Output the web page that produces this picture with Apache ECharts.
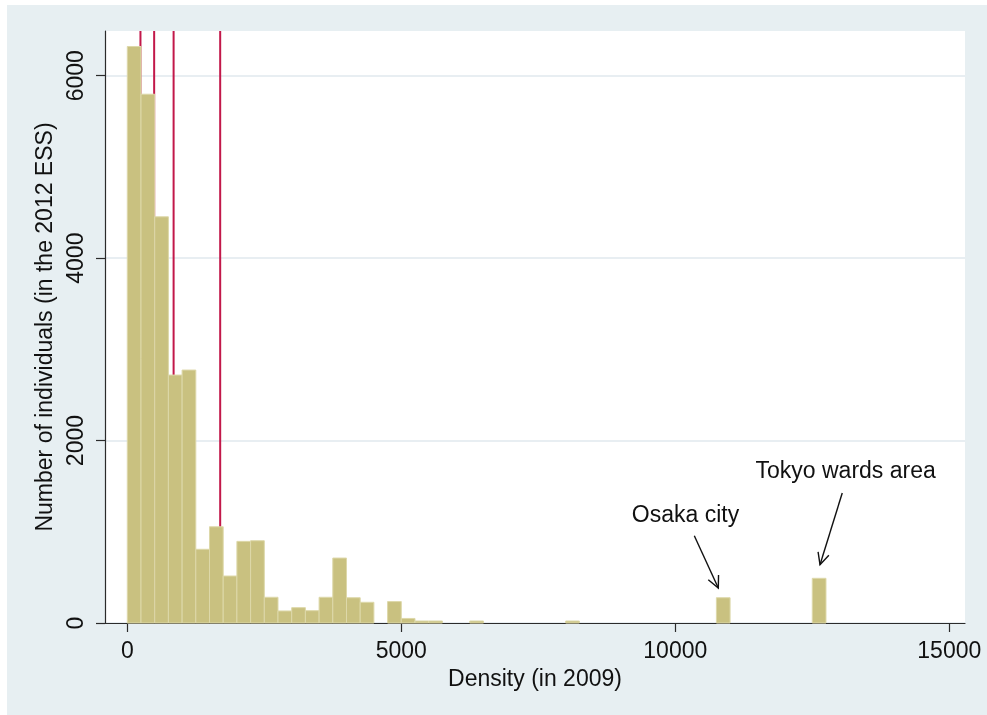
<!DOCTYPE html>
<html>
<head>
<meta charset="utf-8">
<title>Density histogram</title>
<script src="https://cdn.jsdelivr.net/npm/echarts@6/dist/echarts.min.js"></script>
<style>
  html, body { margin: 0; padding: 0; background: #fff; }
  #chart { width: 987px; height: 715px; }
</style>
</head>
<body>
<div id="chart"></div>
<script>
// histogram bins (lower edge, width 250) and counts
const binWidth = 250
const binLower = [0, 250, 500, 750, 1000, 1250, 1500, 1750, 2000, 2250, 2500, 2750, 3000, 3250, 3500, 3750, 4000, 4250, 4750, 5000, 5250, 5500, 6250, 8000, 10750, 12500]
const binCount = [6320, 5797, 4453, 2718, 2773, 808, 1055, 515, 895, 902, 282, 132, 168, 135, 282, 712, 277, 227, 235, 50, 22, 22, 22, 22, 277, 490]

// red reference lines
const refLines = [240, 490, 845, 1695]

// tick labels
const xTicks = [0, 5000, 10000, 15000]
const yTicks = [0, 2000, 4000, 6000]

// annotations
const annoLabels = ['Osaka city', 'Tokyo wards area']
const annoTextAt = [[10186, 1179], [13109, 1658]]
const arrowFrom = [[10347, 957], [13047, 1425]]
const arrowTo = [[10785, 384], [12641, 639]]

const FONT = '"Liberation Sans", Arial, Helvetica, sans-serif'
const Y_MAX = 6490

const barData = binLower.map((lo, i) => [lo, lo + binWidth, binCount[i]])
const annoData = annoLabels.map((t, i) => [annoTextAt[i][0], annoTextAt[i][1], arrowFrom[i][0], arrowFrom[i][1], arrowTo[i][0], arrowTo[i][1]])

const chart = echarts.init(document.getElementById('chart'), null, {renderer: 'canvas'})

const plainNumber = v => String(v)

chart.setOption({
  animation: false,
  textStyle: {fontFamily: FONT},
  graphic: [{
    type: 'rect',
    z: -10,
    silent: true,
    shape: {x: 7, y: 5, width: 980, height: 710},
    style: {fill: '#e7eff2'}
  }],
  grid: {
    left: 105,
    right: 22,
    top: 31,
    bottom: 92,
    show: true,
    backgroundColor: '#ffffff',
    borderWidth: 0
  },
  xAxis: {
    type: 'value',
    min: -407,
    max: 15287,
    name: 'Density (in 2009)',
    nameLocation: 'middle',
    nameGap: 42,
    nameTextStyle: {fontSize: 23, color: '#111', fontFamily: FONT},
    axisLine: {show: true, onZero: false, lineStyle: {color: '#2b2b2b', width: 1.2}},
    axisTick: {show: true, length: 9, customValues: xTicks, lineStyle: {color: '#2b2b2b', width: 1.2}},
    axisLabel: {customValues: xTicks, formatter: plainNumber, margin: 17, fontSize: 23, color: '#111', fontFamily: FONT},
    splitLine: {show: false}
  },
  yAxis: {
    type: 'value',
    min: 0,
    max: Y_MAX,
    interval: 2000,
    name: 'Number of individuals (in the 2012 ESS)',
    nameLocation: 'middle',
    nameGap: 40,
    nameTextStyle: {fontSize: 23, color: '#111', fontFamily: FONT},
    axisLine: {show: true, onZero: false, lineStyle: {color: '#2b2b2b', width: 1.2}},
    axisTick: {show: true, length: 9, customValues: yTicks, lineStyle: {color: '#2b2b2b', width: 1.2}},
    axisLabel: {customValues: yTicks, formatter: plainNumber, rotate: 90, margin: 17, fontSize: 23, color: '#111', fontFamily: FONT},
    splitLine: {show: true, lineStyle: {color: '#e1e9ee', width: 1.5}}
  },
  series: [{
    // reference lines, drawn behind the bars
    type: 'custom',
    z: 1,
    silent: true,
    data: refLines.map(v => [v]),
    encode: {x: 0},
    renderItem: function (params, api) {
      const bottom = api.coord([api.value(0), 0])
      const top = api.coord([api.value(0), Y_MAX])
      return {
        type: 'line',
        shape: {x1: bottom[0], y1: bottom[1], x2: top[0], y2: top[1]},
        style: {stroke: '#c2184a', lineWidth: 2}
      }
    }
  }, {
    type: 'custom',
    z: 2,
    silent: true,
    data: barData,
    encode: {x: [0, 1], y: 2},
    renderItem: function (params, api) {
      const topLeft = api.coord([api.value(0), api.value(2)])
      const bottomRight = api.coord([api.value(1), 0])
      return {
        type: 'rect',
        shape: {
          x: topLeft[0],
          y: topLeft[1],
          width: bottomRight[0] - topLeft[0],
          height: bottomRight[1] - topLeft[1]
        },
        style: {fill: '#c9c180', stroke: '#ddd8a9', lineWidth: 1}
      }
    }
  }, {
    type: 'custom',
    z: 3,
    silent: true,
    clip: false,
    data: annoData,
    renderItem: function (params, api) {
      const txt = api.coord([api.value(0), api.value(1)])
      const a = api.coord([api.value(2), api.value(3)])
      const b = api.coord([api.value(4), api.value(5)])
      const ang = Math.atan2(b[1] - a[1], b[0] - a[0])
      const head = 13
      const spread = Math.PI / 7
      const h1 = [b[0] - head * Math.cos(ang - spread), b[1] - head * Math.sin(ang - spread)]
      const h2 = [b[0] - head * Math.cos(ang + spread), b[1] - head * Math.sin(ang + spread)]
      return {
        type: 'group',
        children: [{
          type: 'text',
          style: {
            x: txt[0],
            y: txt[1],
            text: annoLabels[params.dataIndex],
            fill: '#111',
            font: '23px ' + FONT,
            align: 'center',
            verticalAlign: 'middle'
          }
        }, {
          type: 'line',
          shape: {x1: a[0], y1: a[1], x2: b[0], y2: b[1]},
          style: {stroke: '#111', lineWidth: 1.4}
        }, {
          type: 'polyline',
          shape: {points: [h1, b, h2]},
          style: {stroke: '#111', lineWidth: 1.4, fill: null}
        }]
      }
    }
  }]
})
</script>
</body>
</html>
